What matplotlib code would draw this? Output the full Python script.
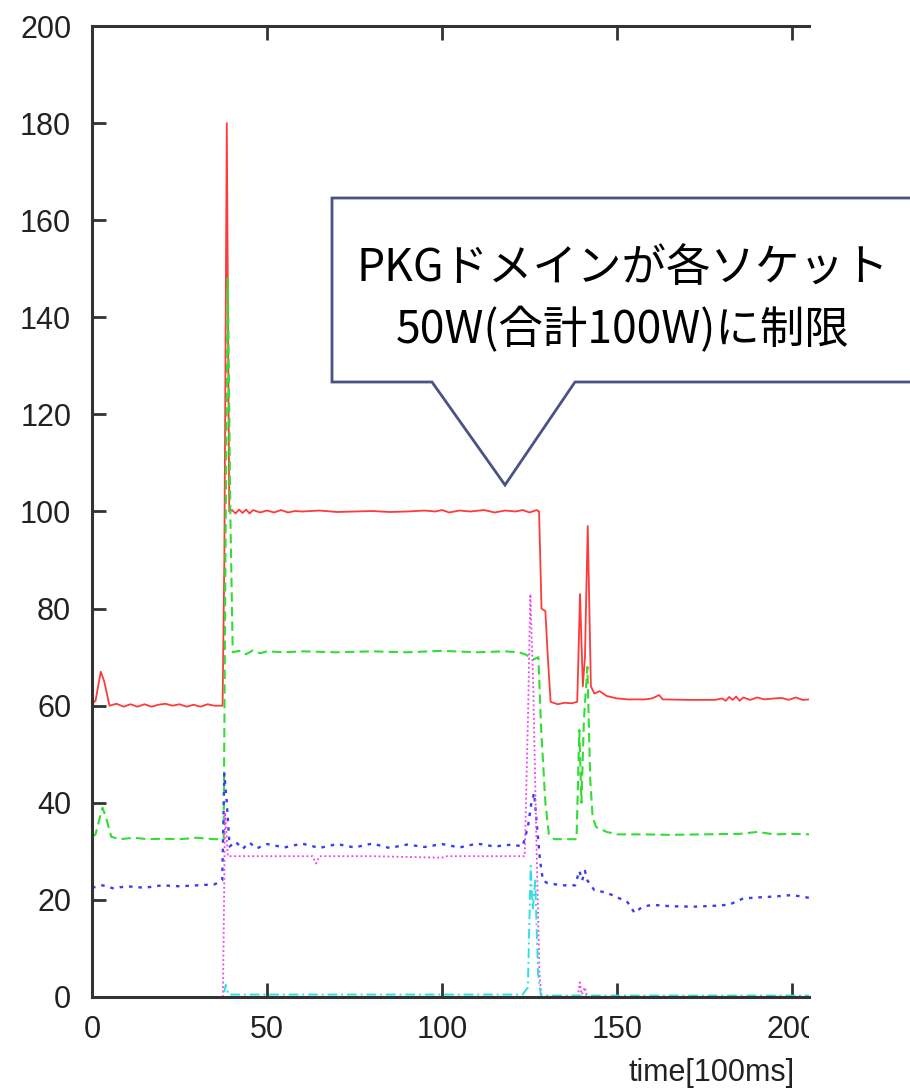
import matplotlib
matplotlib.use("Agg")
import matplotlib.pyplot as plt
from matplotlib.patches import Polygon
from matplotlib.transforms import Bbox, TransformedBbox

# --- data (time in 100ms units, power in W) ---
red_t = [0, 1, 2.5, 3.5, 5, 7, 9, 11, 13, 15, 17, 19, 21, 23, 25, 27, 29, 31, 33, 35, 37.3,
         37.8, 38.5, 39.2, 40, 41, 42, 43, 44, 45, 46, 48, 50, 52, 54, 56, 58, 60, 65, 70, 75,
         80, 85, 90, 95, 98, 100, 102, 105, 108, 112, 115, 118, 121, 123, 125, 127, 127.7,
         128.4, 129.5, 130.2, 131, 133, 135, 137, 138.6, 139.4, 140.2, 140.8, 141.6, 142.5,
         143.5, 145, 147, 150, 153, 158, 160, 162, 163, 170, 178, 180, 181, 182, 183, 184,
         185, 186, 188, 190, 192, 195, 197, 199, 201, 203, 205]
red_v = [60.5, 61, 67, 65, 60, 60.4, 59.8, 60.3, 59.8, 60.3, 59.8, 60.2, 60.4, 60, 60.3, 59.8,
         60.2, 59.8, 60.3, 60, 60,
         90, 180, 100, 100.3, 99.6, 100.4, 99.7, 100.4, 99.6, 100.3, 99.8, 100.2, 99.8, 100.3,
         99.8, 100.1, 100, 100.2, 99.9, 100, 100.1, 99.9, 100, 100.2, 100, 100.3, 99.8, 100.2,
         100, 100.3, 99.8, 100.2, 100, 100.3, 99.8, 100.3, 100,
         80, 79.5, 70, 60.8, 60.3, 60.6, 60.5, 60.8, 83, 64, 70, 97, 64,
         62.5, 63, 62, 61.5, 61.3, 61.3, 61.5, 62.2, 61.3, 61.2, 61.2, 61.5, 61, 61.8, 61.2, 61.9,
         61, 61.7, 61.2, 61.7, 61.3, 61.5, 61.6, 61.2, 61.7, 61.2, 61.3]

green_t = [0, 1, 3, 4, 5.5, 8, 12, 16, 20, 25, 30, 35, 37.6, 38.2, 38.8, 39.5, 40.2, 42, 44,
           46, 48, 50, 55, 60, 70, 80, 90, 100, 110, 118, 122, 124, 126, 127.5, 128.3, 129.5,
           130.5, 132, 138.4, 139.2, 139.8, 140.5, 141.5, 142.3, 143, 144, 147, 150, 158, 165,
           175, 185, 190, 195, 200, 205]
green_v = [33, 33.5, 39, 37, 33, 32.5, 32.8, 32.5, 32.6, 32.5, 32.8, 32.5, 32.5, 100, 148, 100,
           71, 71.3, 70.6, 71.4, 70.8, 71.2, 71, 71.2, 71, 71.2, 71, 71.3, 71, 71.2, 71, 70.5,
           69.5, 70, 55, 40, 33.5, 32.5, 32.5, 55, 40, 57, 68, 45, 37, 35, 34, 33.5, 33.5, 33.4,
           33.5, 33.6, 34, 33.5, 33.6, 33.5]

blue_t = [0, 3, 6, 10, 15, 20, 25, 30, 35, 37.2, 37.8, 38.5, 39.3, 41, 43, 45, 47, 50, 55, 60,
          65, 70, 75, 80, 85, 90, 95, 100, 105, 110, 115, 120, 123, 124.5, 125.5, 126.3, 127,
          128, 128.8, 130, 134, 138, 139.2, 140, 140.8, 141.5, 143.5, 147, 151, 153, 155, 157,
          160, 165, 172, 178, 182, 186, 190, 195, 200, 205]
blue_v = [22.5, 23, 22.4, 22.8, 22.5, 23, 22.8, 23, 23.2, 24, 46, 40, 31, 32, 30.5, 31.8, 30.6,
          31.5, 30.8, 31.6, 30.7, 31.5, 30.8, 31.6, 30.7, 31.4, 30.9, 31.5, 30.8, 31.6, 31, 31.4,
          31, 35, 40, 42, 36, 28, 24, 23.5, 23, 23, 26, 24, 26, 24, 22, 21.5, 20.2, 19.5, 17.3,
          18.5, 19, 18.7, 18.6, 18.8, 19, 20.3, 20.5, 20.7, 21, 20.4]

magenta_t = [0, 37.4, 38, 38.8, 40, 50, 60, 63, 64, 65, 80, 100, 101, 123.6, 124.6, 125.2, 126,
             127, 127.8, 128.4, 138.8, 139.3, 139.9, 140.8, 141.4, 205]
magenta_v = [0, 0, 38, 29, 29, 29, 29, 29, 27.5, 29, 29, 28.7, 29, 29, 60, 83, 65, 30, 5, 0, 0,
             3, 0.5, 2, 0, 0]

cyan_t = [0, 37.5, 38.2, 39, 123, 124.5, 125.3, 125.9, 126.6, 127.4, 128.2, 205]
cyan_v = [0, 0, 2.5, 0.5, 0.5, 2, 27, 18, 24, 5, 0.3, 0.3]

x_ticks = [0, 50, 100, 150, 200]
y_ticks = [0, 20, 40, 60, 80, 100, 120, 140, 160, 180, 200]
note_lines = ["PKGドメインが各ソケット", "50W(合計100W)に制限"]

W, H = 910, 1090
fig = plt.figure(figsize=(W / 100, H / 100), dpi=100)
ax = fig.add_axes([92 / W, 1 - 997 / H, 717 / W, 971 / H])

ax.plot(red_t, red_v, color="#ff3a3a", lw=1.3)
ax.plot(green_t, green_v, color="#33dd33", lw=1.5, ls=(0, (4.5, 2.5)))
ax.plot(blue_t, blue_v, color="#3c3cf0", lw=1.7, ls=(0, (1.5, 2.5)))
ax.plot(magenta_t, magenta_v, color="#f040f0", lw=1.3, ls=(0, (1, 1.5)))
ax.plot(cyan_t, cyan_v, color="#30e0e0", lw=1.4, ls=(0, (5, 2, 1, 2)))

ax.set_xlim(0, 204.8)
ax.set_ylim(0, 200)
ax.set_xticks(x_ticks)
ax.set_yticks(y_ticks)

for s in ["left", "bottom", "top"]:
    ax.spines[s].set_linewidth(2.2)
    ax.spines[s].set_color("#333333")
ax.spines["right"].set_visible(False)
ax.tick_params(direction="in", length=10, width=2, color="#333333",
               labelsize=22, labelcolor="#222222", top=True, pad=13)
ax.tick_params(axis="y", pad=15)
for lbl in ax.get_xticklabels() + ax.get_yticklabels():
    lbl.set_family("Liberation Sans")

ax.set_xlabel("time[100ms]", fontsize=22, family="Liberation Sans", color="#222222", loc="right")
ax.xaxis.set_label_coords(0.98, -0.063)

# the source picture is cut off just right of the plot
clip = TransformedBbox(Bbox([[0, 0], [809 / W, 1]]), fig.transFigure)
for tk in ax.xaxis.get_major_ticks():
    tk.label1.set_clip_box(clip)
    tk.label1.set_clip_on(True)

# speech bubble
pts = [(332, 198), (915, 198), (915, 382), (575, 382), (505, 485), (432, 382), (332, 382)]
bubble = Polygon([(px / W, 1 - py / H) for px, py in pts], closed=True,
                 transform=fig.transFigure, facecolor="white", edgecolor="#4b5384", lw=2)
fig.add_artist(bubble)
for i, line in enumerate(note_lines):
    fig.text(623 / W, 1 - (268 + 62 * i) / H, line, ha="center", va="center", fontsize=32,
             family=["Noto Sans CJK JP", "DejaVu Sans"], color="black")

fig.savefig("out.png", dpi=100)
